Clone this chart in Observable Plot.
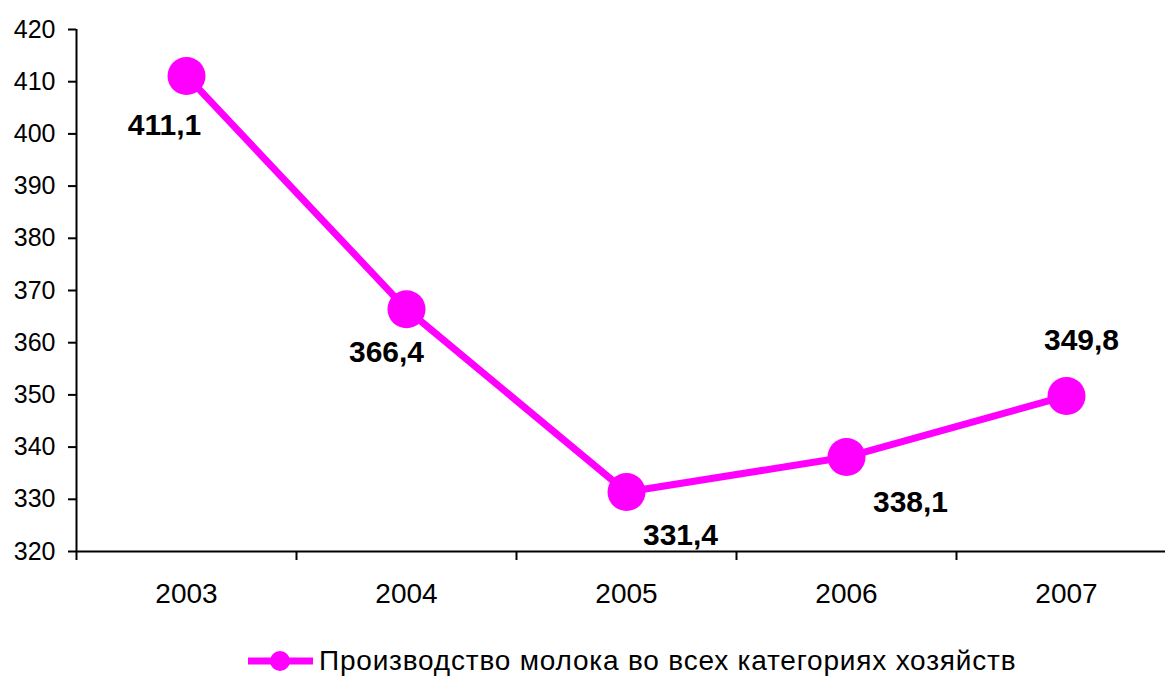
<!DOCTYPE html>
<html><head><meta charset="utf-8">
<script src="https://cdn.jsdelivr.net/npm/d3@7"></script>
<script src="https://cdn.jsdelivr.net/npm/@observablehq/plot@0.6"></script>
<style>
body{margin:0;background:#fff;font-family:Arial,"Liberation Sans",sans-serif;}
#wrap{position:relative;width:1165px;height:678px;}
#legend{position:absolute;left:247px;top:645px;display:flex;align-items:center;font-size:28px;letter-spacing:0.8px;color:#000;white-space:nowrap;}
#legend svg{margin-right:5px;}
</style></head><body><div id="wrap"><div id="chart"></div>
<div id="legend"><svg width="67" height="24"><line x1="1" y1="12" x2="66" y2="12" stroke="#FF00FF" stroke-width="7"/><circle cx="33" cy="12" r="10" fill="#FF00FF"/></svg><span id="legtext"></span></div></div>
<script>
const years = ["2003", "2004", "2005", "2006", "2007"];
const values = [411.1, 366.4, 331.4, 338.1, 349.8];
const valueLabels = ["411,1", "366,4", "331,4", "338,1", "349,8"];
const yTicks = [320, 330, 340, 350, 360, 370, 380, 390, 400, 410, 420];
const seriesName = "Производство молока во всех категориях хозяйств";

const data = years.map((y, i) => ({year: y, idx: i + 0.5, value: values[i], label: valueLabels[i]}));
const labelOffsets = [[-22, 49], [-20, 43], [54, 43], [64, 45], [15, -56]];
const color = "#FF00FF";

const chart = Plot.plot({
  width: 1165,
  height: 620,
  marginTop: 29,
  marginBottom: 69,
  marginLeft: 76,
  marginRight: 0,
  style: {fontFamily: "Arial, 'Liberation Sans', sans-serif", color: "#000", background: "#fff"},
  x: {type: "linear", domain: [0, 5], range: [76, 1176], label: null},
  y: {domain: [320, 420], label: null},
  marks: [
    Plot.axisY({ticks: yTicks, tickSize: 8, tickPadding: 13, fontSize: 25, strokeWidth: 2, label: null, tickFormat: d => String(d)}),
    Plot.axisX({ticks: [0, 1, 2, 3, 4, 5], tickSize: 9, strokeWidth: 2, label: null, tickFormat: () => ""}),
    Plot.ruleX([0], {y1: 320, y2: 420, stroke: "#000", strokeWidth: 2}),
    Plot.ruleY([320], {x1: 0, x2: 5, stroke: "#000", strokeWidth: 2}),
    Plot.text(data, {x: "idx", y: 320, text: "year", dy: 43, fontSize: 28}),
    Plot.line(data, {x: "idx", y: "value", stroke: color, strokeWidth: 7}),
    Plot.dot(data, {x: "idx", y: "value", r: 19, fill: color, stroke: null}),
    ...labelOffsets.map(([dx, dy], k) => Plot.text(data, {
      filter: (d, i) => i === k, x: "idx", y: "value", text: "label",
      dx, dy, fontSize: 30, fontWeight: "bold", fill: "#000"
    }))
  ]
});
document.getElementById("chart").appendChild(chart);
document.getElementById("legtext").textContent = seriesName;
</script></body></html>
